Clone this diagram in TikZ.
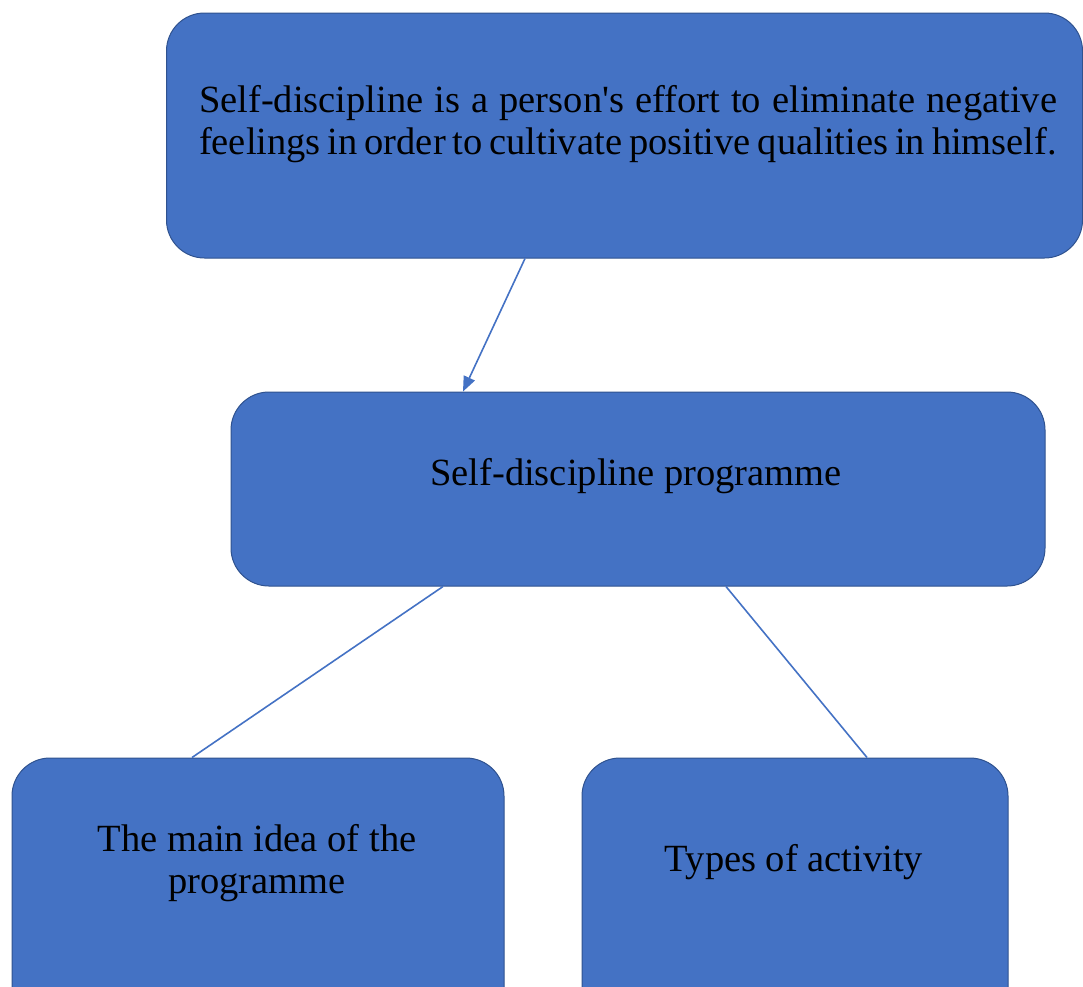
\documentclass[tikz,border=0pt]{standalone}
\usepackage{fontspec}
\setmainfont{Liberation Serif}[Ligatures=TeXOff]
\usetikzlibrary{arrows.meta,calc}
\definecolor{boxfill}{HTML}{4472C4}
\definecolor{boxline}{HTML}{2F528F}
\definecolor{conn}{HTML}{4472C4}
\tikzset{
  box/.style={draw=boxline, line width=1pt, fill=boxfill, rounded corners=38pt, inner sep=0pt},
  lbl/.style={font=\fontsize{38.5}{42.5}\selectfont, text=black, align=center, inner sep=0pt},
  conline/.style={draw=conn, line width=1.6pt},
}
\begin{document}
\begin{tikzpicture}[x=1pt,y=-1pt]
\useasboundingbox (0,0) rectangle (1083,986);
\clip (0,0) rectangle (1083,986);
% boxes
\node[box, minimum width=916pt, minimum height=245pt] (top) at (624.5,135.5) {};
\node[box, minimum width=814pt, minimum height=194pt] (mid) at (638,489) {};
\node[box, minimum width=492pt, minimum height=280pt] (bl) at (258,898) {};
\node[box, minimum width=426pt, minimum height=280pt] (br) at (795,898) {};
% labels
\node[lbl] (toptext) at (628,124) {\hbox to 858pt{Self-discipline is a person's effort to eliminate negative}\\\hbox to 858pt{feelings in order to cultivate positive qualities in himself.}};
\node[lbl] (midtext) at (636,476) {Self-discipline programme};
\node[lbl] (bltext) at (257,863) {The main idea of the\\programme};
\node[lbl] (brtext) at (794,862) {Types of activity};
% connector anchor points
\coordinate (a1) at ([xshift=-99.5pt]top.south);
\coordinate (a2) at ([xshift=-175pt]mid.north);
\coordinate (b1) at ([xshift=-195pt]mid.south);
\coordinate (b2) at ([xshift=-66pt]bl.north);
\coordinate (c1) at ([xshift=88pt]mid.south);
\coordinate (c2) at ([xshift=72pt]br.north);
\draw[conline, -{Triangle[length=15pt,width=12pt]}] (a1) -- (a2);
\draw[conline] (b1) -- (b2);
\draw[conline] (c1) -- (c2);
\end{tikzpicture}
\end{document}
